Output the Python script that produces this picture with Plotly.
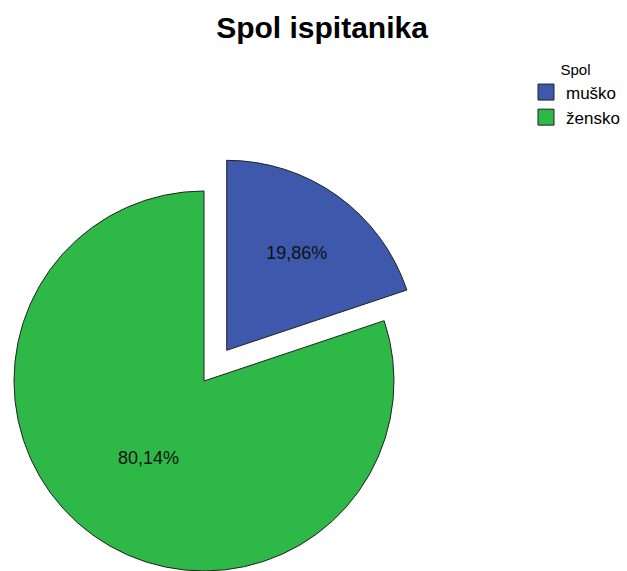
import plotly.graph_objects as go

# ---- data ----
categories = ["muško", "žensko"]
shares = [19.86, 80.14]
pct_labels = ["19,86%", "80,14%"]
colors = ["#3E58AC", "#2EB848"]
chart_title = "Spol ispitanika"
legend_title = "Spol"

# ---- layout geometry (pixels) ----
W, H = 627, 571
R = 190
green_center = (204.0, 381.0)
blue_center = (226.7, 350.3)   # exploded slice offset
EDGE = "#222222"
FONT = "Liberation Sans, Arial, sans-serif"
CLEAR = "rgba(0,0,0,0)"


def pie_domain(cx, cy, r):
    x0 = max(0.0, (cx - r) / W)
    x1 = min(1.0, (cx + r) / W)
    y0 = max(0.0, (H - (cy + r)) / H)
    y1 = min(1.0, (H - (cy - r)) / H)
    return dict(x=[x0, x1], y=[y0, y1])


fig = go.Figure()

# main (green) part of the pie, blue slice left empty
fig.add_trace(go.Pie(
    labels=categories, values=shares, sort=False, direction="clockwise", rotation=0,
    marker=dict(colors=[CLEAR, colors[1]], line=dict(color=[CLEAR, EDGE], width=[0, 1])),
    text=["", pct_labels[1]], textinfo="text", textposition="inside",
    insidetextorientation="horizontal",
    textfont=dict(family=FONT, size=18, color="#111111"),
    domain=pie_domain(*green_center, R), showlegend=False, hoverinfo="label+percent",
))

# exploded (blue) slice
fig.add_trace(go.Pie(
    labels=categories, values=shares, sort=False, direction="clockwise", rotation=0,
    marker=dict(colors=[colors[0], CLEAR], line=dict(color=[EDGE, CLEAR], width=[1, 0])),
    text=[pct_labels[0], ""], textinfo="text", textposition="inside",
    insidetextorientation="horizontal",
    textfont=dict(family=FONT, size=18, color="#111111"),
    domain=pie_domain(*blue_center, R), showlegend=False, hoverinfo="label+percent",
))

# legend entries
for cat, col in zip(categories, colors):
    fig.add_trace(go.Scatter(
        x=[None], y=[None], mode="markers", name=cat,
        marker=dict(symbol="square", size=16, color=col, line=dict(color=EDGE, width=1)),
        showlegend=True, hoverinfo="skip",
    ))

fig.update_layout(
    width=W, height=H,
    margin=dict(l=0, r=0, t=0, b=0),
    paper_bgcolor="white", plot_bgcolor="white",
    xaxis=dict(visible=False), yaxis=dict(visible=False),
    title=dict(text="<b>" + chart_title + "</b>", x=322 / W, xanchor="center",
               y=1 - 27 / H, yanchor="middle",
               font=dict(family=FONT, size=30, color="#000000")),
    legend=dict(
        x=526 / W, xanchor="left", y=1 - 55 / H, yanchor="top",
        bgcolor="rgba(0,0,0,0)", borderwidth=0,
        font=dict(family=FONT, size=17, color="#000000"),
        title=dict(text=legend_title, side="top center", font=dict(family=FONT, size=15, color="#000000")),
        traceorder="normal",
    ),
)

fig.write_html("out.html", config={"displayModeBar": False},
               post_script="document.body.style.margin='0';")
